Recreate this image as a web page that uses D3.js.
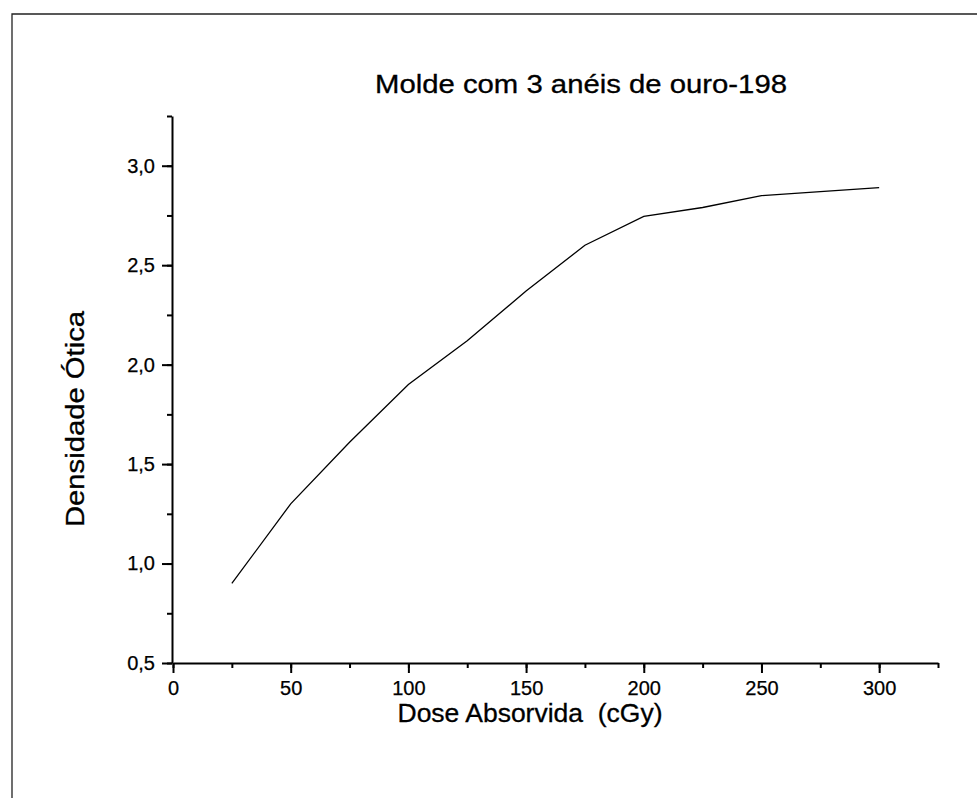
<!DOCTYPE html>
<html>
<head>
<meta charset="utf-8">
<script src="https://cdn.jsdelivr.net/npm/d3@7"></script>
<style>
  body { margin: 0; background: #fff; }
  text { font-family: Arial, "Liberation Sans", sans-serif; fill: #000; white-space: pre; }
</style>
</head>
<body>
<script>
// dose (cGy) vs optical density
var doses = [25, 50, 75, 100, 125, 150, 175, 200, 225, 250, 275, 300];
var density = [0.90, 1.30, 1.61, 1.90, 2.12, 2.37, 2.60, 2.745, 2.79, 2.85, 2.87, 2.89];
var xTicks = [0, 50, 100, 150, 200, 250, 300];
var yTicks = [0.5, 1.0, 1.5, 2.0, 2.5, 3.0];

var width = 977, height = 798;

var svg = d3.select("body").append("svg")
    .attr("width", width)
    .attr("height", height);

// frame (only top and left edge visible)
svg.append("path")
    .attr("d", "M12,798 L12,14 L977,14")
    .attr("fill", "none")
    .attr("stroke", "#222")
    .attr("stroke-width", 1.3);

var x = d3.scaleLinear().domain([0, 325]).range([173, 938]);
var y = d3.scaleLinear().domain([0.5, 3.25]).range([663, 116]);

var comma = function(d){ return d3.format(".1f")(d).replace(".", ","); };

// minor ticks
svg.append("g")
    .attr("transform", "translate(0,663)")
    .call(d3.axisBottom(x).tickValues(d3.range(0, 326, 25)).tickSize(5).tickFormat(""))
    .call(function(g){ g.select(".domain").remove(); });
svg.append("g")
    .attr("transform", "translate(172,0)")
    .call(d3.axisLeft(y).tickValues(d3.range(0.5, 3.26, 0.25)).tickSize(5).tickFormat(""))
    .call(function(g){ g.select(".domain").remove(); });

// major ticks
var xAxis = svg.append("g")
    .attr("transform", "translate(0,663)")
    .call(d3.axisBottom(x).tickValues(xTicks).tickSize(10).tickSizeOuter(0).tickPadding(8));
var yAxis = svg.append("g")
    .attr("transform", "translate(172,0)")
    .call(d3.axisLeft(y).tickValues(yTicks).tickSize(10).tickSizeOuter(0).tickPadding(7).tickFormat(comma));

svg.selectAll(".domain, .tick line")
    .attr("stroke", "#000")
    .attr("stroke-width", 2);
svg.selectAll("g").attr("font-size", null).attr("font-family", null);
svg.selectAll(".tick text")
    .style("font-size", "20px")
    .attr("fill", "#000")
    .attr("stroke", "#000")
    .attr("stroke-width", 0.25);

// curve
var line = d3.line()
    .x(function(d, i){ return x(doses[i]); })
    .y(function(d){ return y(d); });

svg.append("path")
    .datum(density)
    .attr("d", line)
    .attr("fill", "none")
    .attr("stroke", "#000")
    .attr("stroke-width", 1.3);

// title and labels
svg.append("text")
    .attr("x", 581).attr("y", 93)
    .attr("text-anchor", "middle")
    .style("font-size", "25px")
    .attr("stroke", "#000").attr("stroke-width", 0.3)
    .attr("textLength", 412)
    .attr("lengthAdjust", "spacingAndGlyphs")
    .text("Molde com 3 anéis de ouro-198");

svg.append("text")
    .attr("x", 530).attr("y", 722)
    .attr("text-anchor", "middle")
    .style("font-size", "25px")
    .attr("stroke", "#000").attr("stroke-width", 0.3)
    .attr("textLength", 265)
    .attr("lengthAdjust", "spacingAndGlyphs")
    .text("Dose Absorvida  (cGy)");

svg.append("text")
    .attr("transform", "translate(84,419) rotate(-90)")
    .attr("text-anchor", "middle")
    .style("font-size", "25px")
    .attr("stroke", "#000").attr("stroke-width", 0.3)
    .attr("textLength", 216)
    .attr("lengthAdjust", "spacingAndGlyphs")
    .text("Densidade Ótica");
</script>
</body>
</html>
